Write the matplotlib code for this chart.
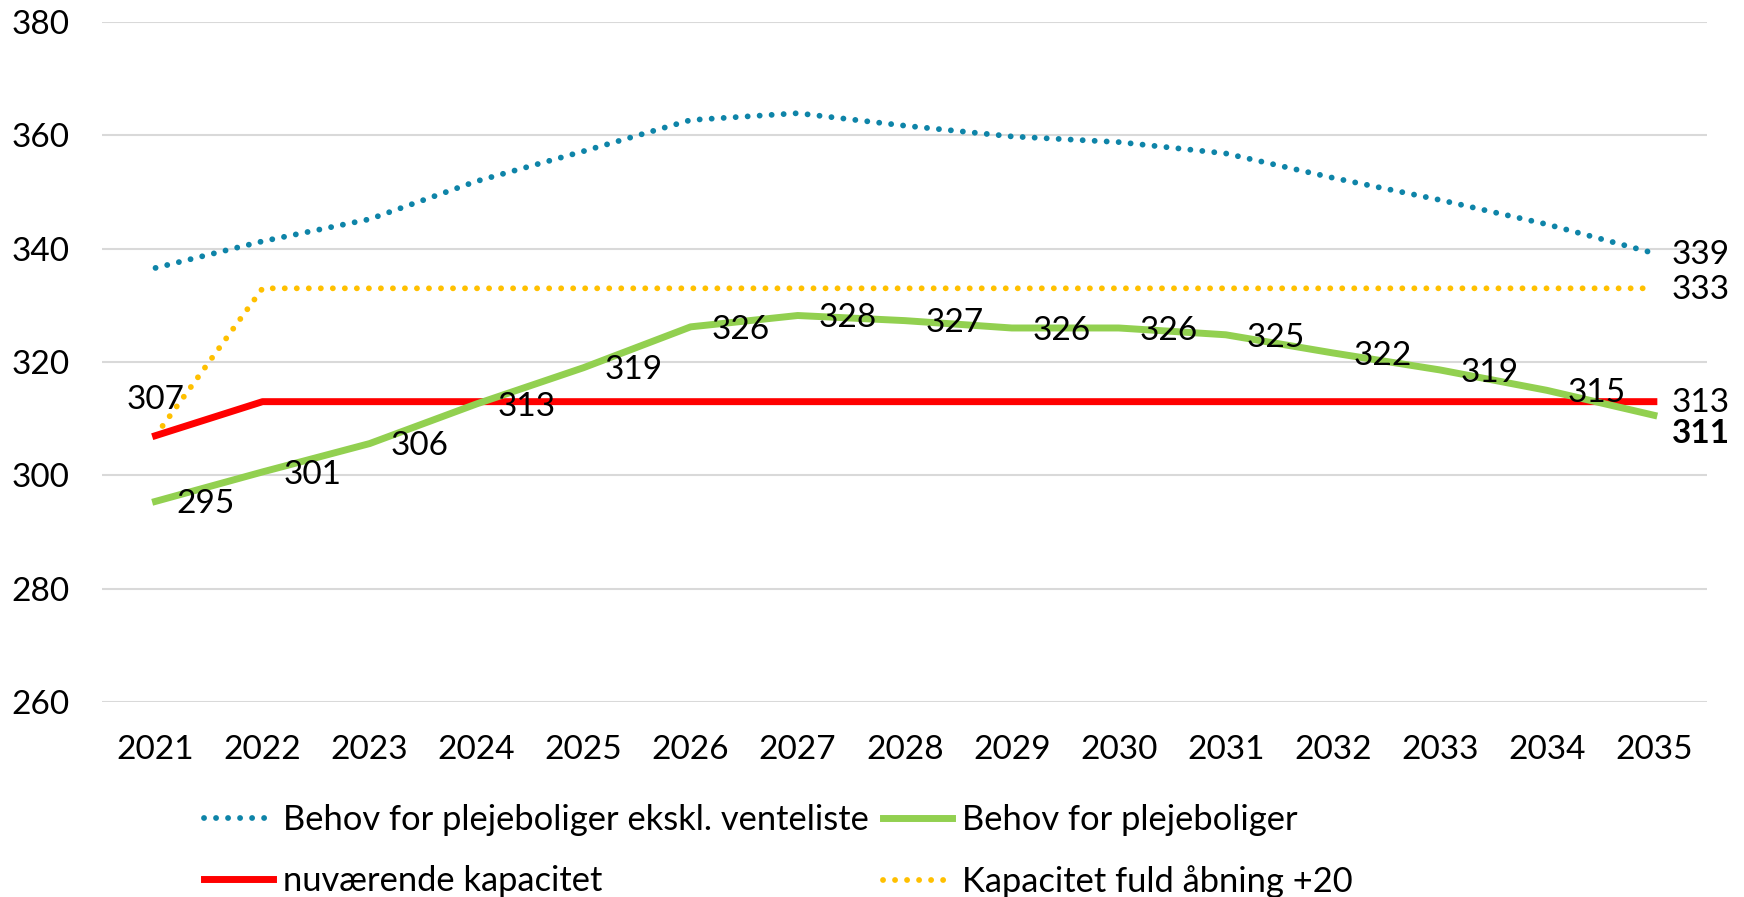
import matplotlib.pyplot as plt
import numpy as np

plt.rcParams['font.family'] = ['Lato', 'DejaVu Sans']

years = np.arange(2021, 2036)
# values
behov_ekskl = [336.6, 341.3, 345.2, 351.9, 357.2, 362.7, 363.9, 361.7, 359.8, 358.8,
               356.8, 352.5, 348.6, 344.3, 339.2]
behov = [295.4, 300.6, 305.6, 312.6, 319.0, 326.2, 328.2, 327.3, 326.0, 326.0,
         324.8, 321.6, 318.6, 315.0, 310.6]
kapacitet = [307] + [313] * 14
kapacitet_20 = [307] + [333] * 14

names = ['Behov for plejeboliger ekskl. venteliste', 'Behov for plejeboliger',
         'nuværende kapacitet', 'Kapacitet fuld åbning +20']
yticks = [260, 280, 300, 320, 340, 360, 380]

fig = plt.figure(figsize=(17.44, 8.97), dpi=100)
ax = fig.add_axes([0.0585, 0.2174, 0.9205, 0.7581])

dot = (0, (0.01, 2.05))
l_blue, = ax.plot(years, behov_ekskl, color='#0E84A8', lw=4.2, linestyle=dot,
                  dash_capstyle='round', label=names[0])
l_yel, = ax.plot(years, kapacitet_20, color='#FFC000', lw=4.2, linestyle=dot,
                 dash_capstyle='round', label=names[3])
l_red, = ax.plot(years, kapacitet, color='#FF0000', lw=5, label=names[2])
l_green, = ax.plot(years, behov, color='#92D050', lw=5, label=names[1])

fs = 24
for x, v in zip(years[:-1], behov[:-1]):
    ax.annotate(f'{round(v)}', (x, v), xytext=(15, -2), textcoords='offset points',
                ha='left', va='center', fontsize=fs)

ax.annotate(f'{kapacitet[0]}', (years[0], kapacitet[0]), xytext=(0, 26),
            textcoords='offset points', ha='center', va='center', fontsize=fs)
ax.annotate(f'{round(behov_ekskl[-1])}', (years[-1], behov_ekskl[-1]), xytext=(13, -1),
            textcoords='offset points', ha='left', va='center', fontsize=fs)
ax.annotate(f'{kapacitet_20[-1]}', (years[-1], kapacitet_20[-1]), xytext=(13, -1),
            textcoords='offset points', ha='left', va='center', fontsize=fs)
ax.annotate(f'{kapacitet[-1]}', (years[-1], kapacitet[-1]), xytext=(13, -1),
            textcoords='offset points', ha='left', va='center', fontsize=fs)
ax.annotate(f'{round(behov[-1])}', (years[-1], behov[-1]), xytext=(13, -13),
            textcoords='offset points', ha='left', va='center', fontsize=fs,
            fontweight='bold')

ax.set_xlim(2020.5, 2035.5)
ax.set_ylim(260, 380)
ax.set_yticks(yticks)
ax.set_xticks(years)
ax.tick_params(axis='both', length=0, labelsize=fs)
ax.tick_params(axis='x', pad=24)
ax.tick_params(axis='y', pad=65)
ax.grid(axis='y', color='#d9d9d9', lw=1.5)
ax.set_axisbelow(True)
for s in ax.spines.values():
    s.set_visible(False)
for lbl in ax.get_yticklabels():
    lbl.set_horizontalalignment('left')

fig.legend([l_blue, l_red, l_green, l_yel], [names[0], names[2], names[1], names[3]],
           ncol=2, loc='upper left', bbox_to_anchor=(0.117, 0.104), frameon=False,
           fontsize=24.8, borderpad=0, borderaxespad=0, handlelength=2.0,
           handletextpad=0.3, columnspacing=0.4, labelspacing=0.85)

fig.savefig('out.png', dpi=100)
